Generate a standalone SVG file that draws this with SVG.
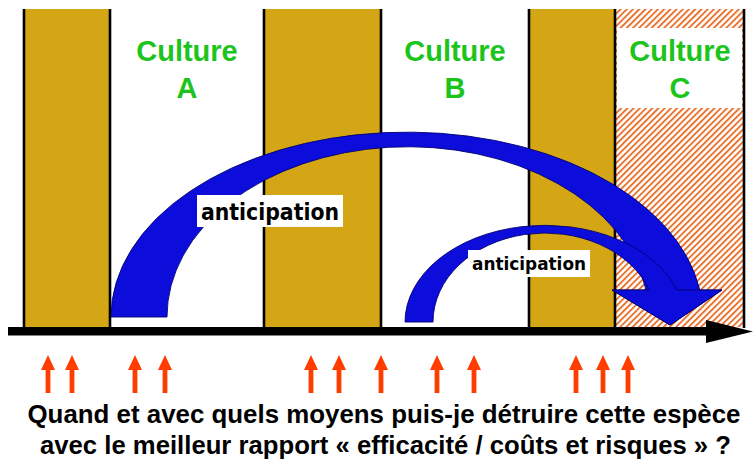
<svg xmlns="http://www.w3.org/2000/svg" width="753" height="461" viewBox="0 0 753 461">
<style>
.bar{fill:#D4A514}
.vline{stroke:#000;stroke-width:2.6}
.cult{font-family:"Liberation Sans",Arial,sans-serif;font-weight:bold;font-size:29px;fill:#1CC41C;text-anchor:middle}
.blue{fill:#0D0DDB;stroke:#000070;stroke-width:0.9;stroke-linejoin:miter}
.lbl{fill:#fff}
.ant{font-family:"Comic Sans MS","DejaVu Sans",sans-serif;font-weight:bold;fill:#000;text-anchor:middle}
.q{font-family:"Liberation Sans",Arial,sans-serif;font-weight:bold;font-size:25px;fill:#000;text-anchor:middle}
.red{fill:#FF3D00}
</style>
<defs>
<pattern id="hatch" patternUnits="userSpaceOnUse" width="4.4" height="10" patternTransform="rotate(45)">
<rect width="4.4" height="10" fill="#fff"/>
<rect x="0" y="0" width="1.9" height="10" fill="#E8732F"/>
</pattern>
<path id="up" d="M-7,370 L0,355 L7,370 L2.4,370 L2.4,393 L-2.4,393 L-2.4,370 Z"/>
</defs>
<rect width="753" height="461" fill="#fff"/>

<g id="bar1"><rect class="bar" x="24" y="9" width="86" height="318"/></g>
<g id="bar2"><rect class="bar" x="264" y="9" width="117" height="318"/></g>
<g id="bar3"><rect class="bar" x="529" y="9" width="86" height="318"/></g>
<g id="cultureC-zone">
<rect x="615" y="9" width="128" height="318" fill="url(#hatch)"/>
<rect x="617" y="28" width="125" height="80" fill="#fff"/>
</g>
<g id="vlines">
<line class="vline" x1="24" y1="9" x2="24" y2="328"/>
<line class="vline" x1="110" y1="9" x2="110" y2="328"/>
<line class="vline" x1="264" y1="9" x2="264" y2="328"/>
<line class="vline" x1="381" y1="9" x2="381" y2="328"/>
<line class="vline" x1="529" y1="9" x2="529" y2="328"/>
<line class="vline" x1="615" y1="9" x2="615" y2="328"/>
<line class="vline" x1="744" y1="9" x2="744" y2="328"/>
</g>

<g id="cultureA"><text class="cult" x="187" y="61">Culture</text><text class="cult" x="187" y="98">A</text></g>
<g id="cultureB"><text class="cult" x="455" y="61">Culture</text><text class="cult" x="455" y="98">B</text></g>
<g id="cultureC"><text class="cult" x="680" y="61">Culture</text><text class="cult" x="680" y="98">C</text></g>

<g id="connectors">
<path id="bigArrow" class="blue" d="M111,317 A296,185 0 0 1 699.8,290 L722,290 L670,325 L612,290 L646,290 A241,170 0 0 0 167,317 Z"/>
<path id="smallArrow" class="blue" d="M405,322 A140,97 0 0 1 677,290 L722,290 L670,325 L612,290 L649.5,290 A112,89 0 0 0 433,322 Z"/>
<g id="axis">
<rect x="8" y="327" width="702" height="8.5" fill="#000"/>
<polygon points="706,320 753,331.5 706,343" fill="#000"/>
</g>
</g>

<g id="label1">
<rect class="lbl" x="197" y="195" width="146" height="32"/>
<text class="ant" x="270" y="220" font-size="23" textLength="138" lengthAdjust="spacingAndGlyphs">anticipation</text>
</g>
<g id="label2">
<rect class="lbl" x="468" y="250" width="122" height="27"/>
<text class="ant" x="529" y="270" font-size="18" textLength="114" lengthAdjust="spacingAndGlyphs">anticipation</text>
</g>

<g id="redArrows" class="red">
<use href="#up" x="48"/>
<use href="#up" x="72"/>
<use href="#up" x="135"/>
<use href="#up" x="165"/>
<use href="#up" x="311"/>
<use href="#up" x="339"/>
<use href="#up" x="381"/>
<use href="#up" x="437"/>
<use href="#up" x="474"/>
<use href="#up" x="576"/>
<use href="#up" x="603"/>
<use href="#up" x="628"/>
</g>

<g id="question">
<text class="q" x="384" y="423" textLength="713" lengthAdjust="spacingAndGlyphs">Quand et avec quels moyens puis-je détruire cette espèce</text>
<text class="q" x="385.5" y="454" textLength="691" lengthAdjust="spacingAndGlyphs">avec le meilleur rapport « efficacité / coûts et risques » ?</text>
</g>
</svg>
